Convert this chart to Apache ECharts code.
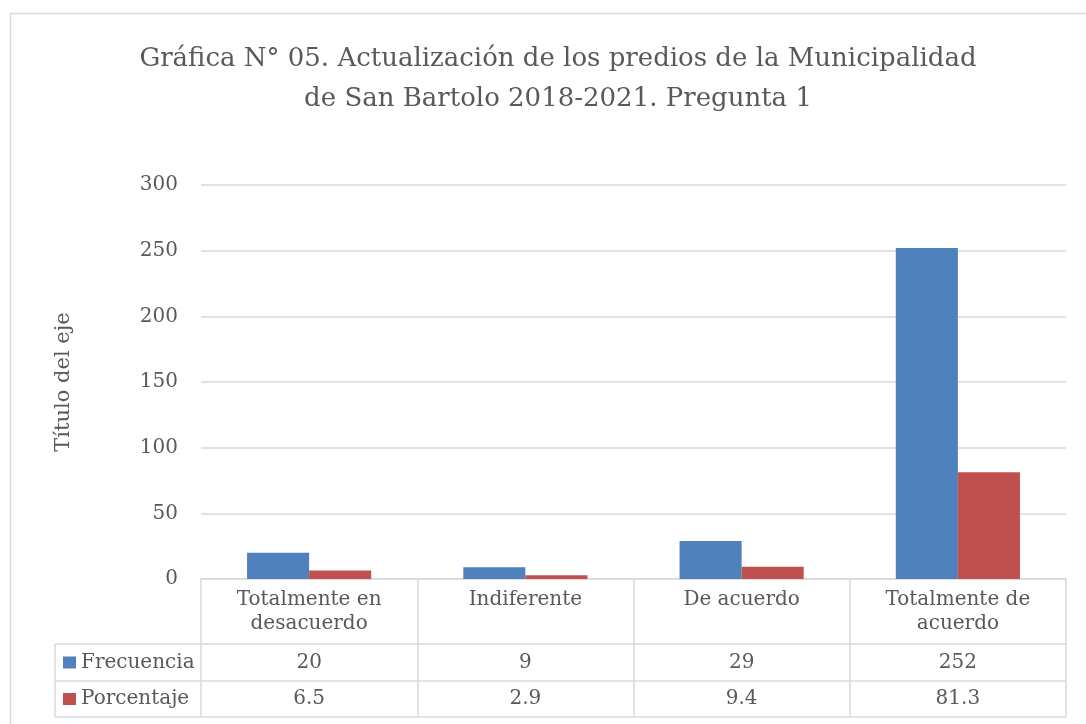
<!DOCTYPE html>
<html>
<head>
<meta charset="utf-8">
<title>Gráfica N° 05</title>
<script src="https://cdn.jsdelivr.net/npm/echarts@6/dist/echarts.min.js"></script>
<style>
  html, body { margin: 0; padding: 0; background: #fff; }
  #main { width: 1086px; height: 724px; }
</style>
</head>
<body>
<div id="main"></div>
<script>
// 数据
const categories = ['Totalmente en\ndesacuerdo', 'Indiferente', 'De acuerdo', 'Totalmente de\nacuerdo'];
const frecuencia = [20, 9, 29, 252];
const porcentaje = [6.5, 2.9, 9.4, 81.3];
const seriesNames = ['Frecuencia', 'Porcentaje'];
const colors = ['#4F81BD', '#C0504D'];

const FONT = 'DejaVu Serif';
const TEXT = '#595959';
const LINE = '#d9d9d9';
const FS = 20;

const chart = echarts.init(document.getElementById('main'), null, { renderer: 'canvas' });

chart.setOption({
  animation: false,
  color: colors,
  title: {
    text: 'Gráfica N° 05. Actualización de los predios de la Municipalidad\nde San Bartolo 2018-2021. Pregunta 1',
    left: 553,
    top: 34,
    textAlign: 'center',
    textStyle: { fontFamily: FONT, fontSize: 26, fontWeight: 'normal', color: TEXT, lineHeight: 40 }
  },
  grid: { left: 201, right: 20, top: 185, bottom: 145 },
  xAxis: {
    type: 'category',
    data: categories,
    axisLine: { lineStyle: { color: LINE, width: 1.5 } },
    axisTick: { show: true, length: 138, lineStyle: { color: LINE, width: 1.5 } },
    axisLabel: { margin: 9, fontFamily: FONT, fontSize: FS, color: TEXT, lineHeight: 24, interval: 0 }
  },
  yAxis: {
    type: 'value',
    min: 0,
    max: 300,
    interval: 50,
    name: 'Título del eje',
    nameLocation: 'middle',
    nameRotate: 90,
    nameGap: 127,
    nameTextStyle: { fontFamily: FONT, fontSize: 21, color: TEXT },
    axisLine: { show: false },
    axisTick: { show: false },
    axisLabel: { margin: 23, fontFamily: FONT, fontSize: FS, color: TEXT },
    splitLine: { lineStyle: { color: LINE, width: 1.5 } }
  },
  series: [
    { name: seriesNames[0], type: 'bar', data: frecuencia, barGap: '0%', barCategoryGap: '42.6%' },
    { name: seriesNames[1], type: 'bar', data: porcentaje, barGap: '0%', barCategoryGap: '42.6%' }
  ]
});

// 数据表格（位置取自坐标轴）
function buildTable() {
  const y0 = chart.convertToPixel({ yAxisIndex: 0 }, 0);
  const xRight = chart.convertToPixel({ xAxisIndex: 0 }, categories.length - 1) + 108;
  const tableLeft = 55;
  const rowTops = [y0 + 65, y0 + 102, y0 + 138];
  const elements = [];

  // 外框
  elements.push({
    type: 'rect', silent: true,
    shape: { x: 10.5, y: 13.5, width: 1100, height: 800 },
    style: { fill: 'none', stroke: LINE, lineWidth: 1.5 }
  });

  // 横线
  rowTops.forEach(y => {
    elements.push({
      type: 'line', silent: true,
      shape: { x1: tableLeft, y1: y, x2: xRight, y2: y },
      style: { stroke: LINE, lineWidth: 1.5 }
    });
  });
  // 左列竖线
  elements.push({
    type: 'line', silent: true,
    shape: { x1: tableLeft, y1: rowTops[0], x2: tableLeft, y2: rowTops[2] },
    style: { stroke: LINE, lineWidth: 1.5 }
  });

  const font = FS + 'px "' + FONT + '"';
  const rows = [frecuencia, porcentaje];
  rows.forEach((vals, r) => {
    const cy = (rowTops[r] + rowTops[r + 1]) / 2;
    // 图例
    elements.push({
      type: 'rect', silent: true,
      shape: { x: 63, y: cy - 6, width: 13, height: 12 },
      style: { fill: colors[r] }
    });
    elements.push({
      type: 'text', silent: true,
      x: 81, y: cy,
      style: { text: seriesNames[r], font: font, fill: TEXT, verticalAlign: 'middle' }
    });
    vals.forEach((v, i) => {
      const cx = chart.convertToPixel({ xAxisIndex: 0 }, i);
      elements.push({
        type: 'text', silent: true,
        x: cx, y: cy,
        style: { text: String(v), font: font, fill: TEXT, align: 'center', verticalAlign: 'middle' }
      });
    });
  });

  chart.setOption({ graphic: elements });
}

buildTable();
</script>
</body>
</html>
